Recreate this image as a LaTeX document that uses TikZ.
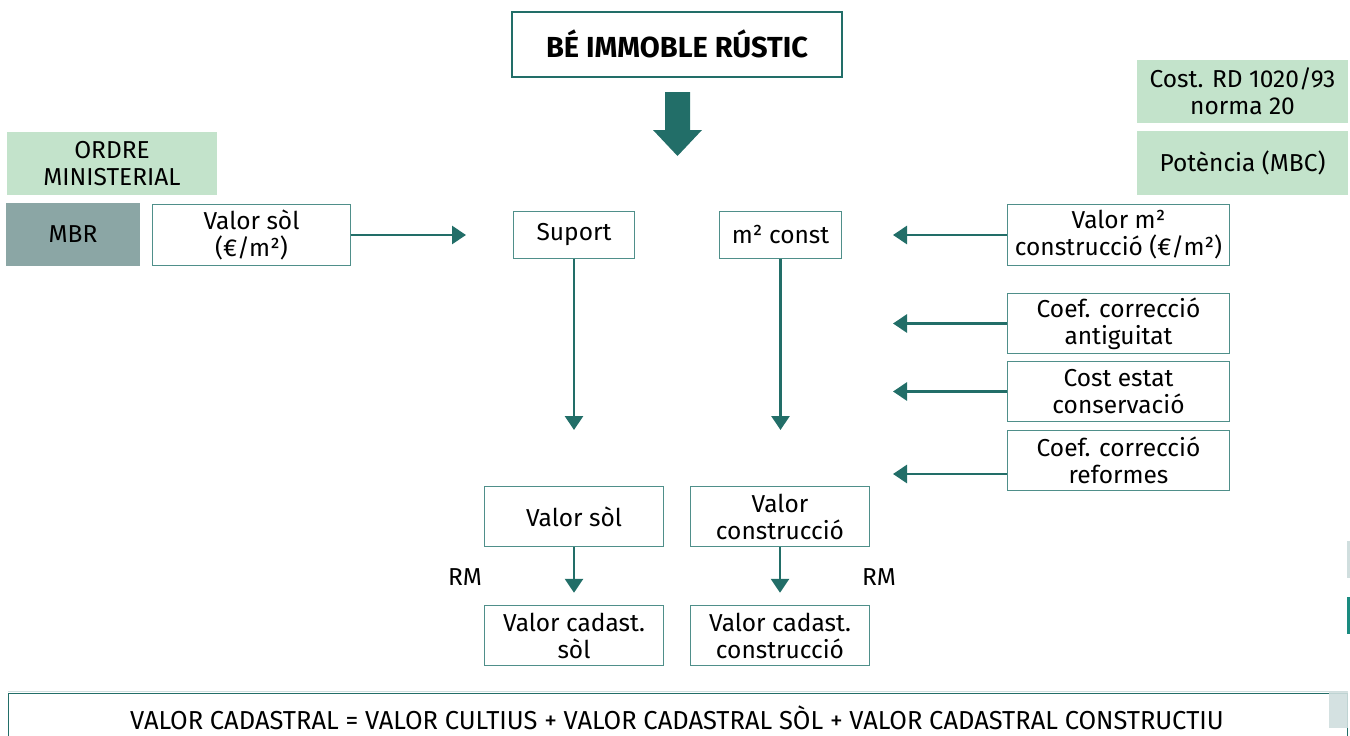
\documentclass[tikz,border=0pt]{standalone}
\usepackage{fontspec}
\setmainfont{Fira Sans}
\usetikzlibrary{arrows.meta}
\definecolor{flowteal}{HTML}{226E68}
\definecolor{rimteal}{HTML}{4F8F8A}
\definecolor{paleGreen}{HTML}{C3E3CB}
\definecolor{slateFill}{HTML}{8BA6A5}
\definecolor{mistGrey}{HTML}{D0DEDE}
\definecolor{brightTeal}{HTML}{1A8B80}
\begin{document}
\begin{tikzpicture}[x=1pt,y=-1pt,
  txt/.style={font=\fontsize{24.5}{27}\selectfont, text=black, align=center, inner sep=0pt},
  box/.style={txt, draw=rimteal, line width=1.4pt, fill=white},
  tag/.style={txt, fill=paleGreen},
  flow/.style={draw=flowteal, line width=2.8pt, -{Triangle[width=18pt,length=14pt]}},
]
\useasboundingbox (0,0) rectangle (1350,736);
\clip (0,0) rectangle (1350,736);

% heading
\node[box, draw=flowteal, line width=2pt, minimum width=330pt, minimum height=65pt,
      font=\fontsize{29}{32}\selectfont\bfseries] (title) at (677,44) {BÉ IMMOBLE RÚSTIC};
\fill[flowteal] (665,92) -- (690,92) -- (690,130) -- (702,130) -- (677.5,156)
  -- (653,130) -- (665,130) -- cycle;

% land side
\node[tag, minimum width=210pt, minimum height=63pt] (ordre) at (112,163.5) {ORDRE\\MINISTERIAL};
\node[txt, fill=slateFill, minimum width=134pt, minimum height=63pt] (mbr) at (73,234.5) {MBR};
\node[box, minimum width=198pt, minimum height=61pt] (vsol) at (251.5,235) {Valor sòl\\(€/m²)};

% central items
\node[box, minimum width=121pt, minimum height=47pt] (suport) at (574,235) {Suport};
\node[box, minimum width=122pt, minimum height=47pt] (m2c) at (780.5,235) {m² const};

% construction side
\node[tag, minimum width=211pt, minimum height=63pt] (costrd) at (1242.5,91.5) {Cost. RD 1020/93\\norma 20};
\node[tag, minimum width=211pt, minimum height=64pt] (potencia) at (1242.5,163) {Potència (MBC)};
\node[box, minimum width=222pt, minimum height=61pt] (vm2) at (1118.5,235) {Valor m²\\construcció (€/m²)};
\node[box, minimum width=222pt, minimum height=60pt] (cant) at (1118.5,323.5) {Coef. correcció\\antiguitat};
\node[box, minimum width=222pt, minimum height=60pt] (cest) at (1118.5,391.5) {Cost estat\\conservació};
\node[box, minimum width=222pt, minimum height=60pt] (cref) at (1118.5,460.5) {Coef. correcció\\reformes};

% results
\node[box, minimum width=179pt, minimum height=60pt] (rsol) at (574,516.5) {Valor sòl};
\node[box, minimum width=179pt, minimum height=60pt] (rcon) at (780,516.5) {Valor\\construcció};
\node[box, minimum width=179pt, minimum height=60pt] (csol) at (574,635.5) {Valor cadast.\\sòl};
\node[box, minimum width=179pt, minimum height=60pt] (ccon) at (780,635.5) {Valor cadast.\\construcció};
\node[txt] (rm1) at (465,577) {RM};
\node[txt] (rm2) at (879,577) {RM};

% free arrow ends
\coordinate (inL) at (466,235);
\coordinate (inR) at (893,235);
\coordinate (inA) at (893,323.5);
\coordinate (inB) at (893,391.5);
\coordinate (inC) at (893,474);
\coordinate (dnS) at (574,430);
\coordinate (dnC) at (780.5,430);

\draw[flow] (vsol.east) -- (inL);
\draw[flow] (vm2.west) -- (inR);
\draw[flow] (cant.west) -- (inA);
\draw[flow] (cest.west) -- (inB);
\draw[flow] ([yshift=-13.5pt]cref.west) -- (inC);
\draw[flow] (suport.south) -- (dnS);
\draw[flow] (m2c.south) -- (dnC);
\draw[flow, shorten >=12pt] (rsol.south) -- (csol.north);
\draw[flow, shorten >=12pt] (rcon.south) -- (ccon.north);

% summary bar
\draw[mistGrey, line width=1pt] (8,691) -- (1347,691);
\node[txt, draw=flowteal, line width=1.4pt, fill=white, minimum width=1339pt, minimum height=60pt,
      anchor=north west] (total) at (8,693) {};
\node[txt, font=\fontsize{26}{28}\selectfont] (formula) at (677,718)
  {\scalebox{0.98}[1]{VALOR CADASTRAL = VALOR CULTIUS + VALOR CADASTRAL SÒL + VALOR CADASTRAL CONSTRUCTIU}};

% edge marks
\fill[mistGrey] (1347,541) rectangle (1350,578);
\fill[brightTeal] (1347,597) rectangle (1350,634);
\fill[mistGrey, opacity=0.9] (1329,691) rectangle (1348,728);
\end{tikzpicture}
\end{document}
